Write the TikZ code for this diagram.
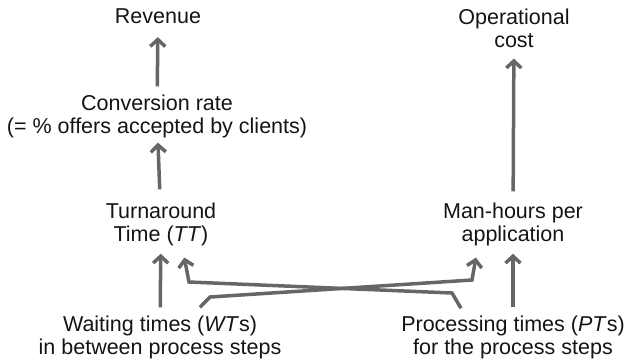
\documentclass[tikz,border=0pt]{standalone}
\usepackage{fontspec}
\setmainfont{Liberation Sans}
\usepackage{tikz}
\usepackage{xcolor}
\usetikzlibrary{arrows.meta,calc}
\definecolor{linkgray}{RGB}{102,102,102}
\definecolor{inkblack}{RGB}{20,20,20}

\begin{document}
\begin{tikzpicture}[x=1pt, y=-1pt, >={Straight Barb[length=7pt,width=15pt]},
    lbl/.style={inner sep=0pt, align=center, text=inkblack, font=\fontsize{21.5}{23}\selectfont},
    link/.style={->, draw=linkgray, line width=3.5pt, shorten <=8pt, shorten >=8pt}]
      \useasboundingbox (0,0) rectangle (628,362);
      % top row
      \node[lbl] (rev) at (158,16.4) {Revenue};
      \node[lbl] (cost) at (514,28) {Operational\\cost};
      \node[lbl] (conv) at (157,116) {Conversion rate\\(= \% offers accepted by clients)};
      % middle row
      \node[lbl] (tt) at (161,224) {Turnaround\\Time (\textit{TT})};
      \node[lbl] (mh) at (513,224) {Man-hours per\\application};
      % bottom row
      \node[lbl] (wait) at (160,337) {Waiting times (\textit{WT}s)\\in between process steps};
      \node[lbl] (proc) at (513,337) {Processing times (\textit{PT}s)\\for the process steps};
      \draw[link, shorten >=13pt] (conv) -- (rev);
      \draw[link, shorten <=13pt, shorten >=5pt] (tt) -- (conv);
      \draw[link, shorten >=11pt, shorten <=11pt] (mh) -- (cost);
      \draw[link] (wait) -- (tt);
      \draw[link] (proc) -- (mh);
      % crossing links
      \draw[link, shorten <=0pt, shorten >=12pt] ([shift={(40pt,8pt)}]wait.north) -- (210,297) -- (472,280) -- ([xshift=-35pt]mh.south);
      \draw[link, shorten <=0pt, shorten >=12pt] ([shift={(-52pt,7pt)}]proc.north) -- (452,293) -- (189,282) -- ([xshift=21pt]tt.south);
    \end{tikzpicture}
\end{document}
